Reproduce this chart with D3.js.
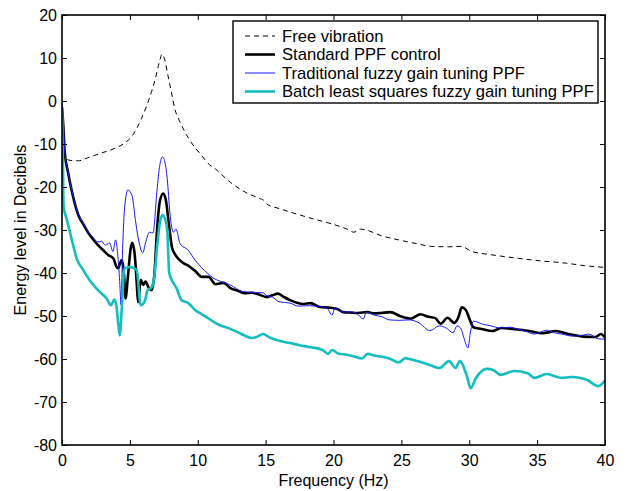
<!DOCTYPE html>
<html>
<head>
<meta charset="utf-8">
<script src="https://cdn.jsdelivr.net/npm/d3@7"></script>
<style>
  html, body { margin: 0; padding: 0; background: #fff; }
  svg { display: block; font-family: "Liberation Sans", Arial, Helvetica, sans-serif; }
</style>
</head>
<body>
<svg id="chart" width="626" height="491"></svg>
<script>
// Frequency response of the beam: energy level (dB) against frequency (Hz)

const freeFreq = [0, 0.2, 0.6, 1.2, 1.9, 2.8, 3.9, 4.6, 5.12, 5.5, 5.86, 6.25, 6.6, 6.9, 7.15, 7.38,
  7.55, 7.8, 8.05, 8.3, 8.65, 9.04, 9.6, 10.27, 10.76, 11.3, 12.4, 13.5, 14.5, 14.9, 15.1, 16.0,
  17.3, 18.5, 19.9, 21.0, 21.5, 22.0, 22.4, 23.5, 24.8, 26.0, 27.2, 28.5, 29.4, 30.2, 31.5, 33.4,
  35.0, 37.1, 38.5, 40];
const freeDb = [-12.0, -13.2, -13.8, -13.9, -13.2, -12.2, -11.0, -9.8, -8.3, -6.4, -4.0, -1.0, 2.2,
  5.5, 8.8, 10.9, 9.8, 6.0, 2.2, -1.7, -4.6, -7.1, -10.0, -12.6, -14.5, -15.8, -18.9, -21.2, -22.6,
  -23.2, -24.0, -25.0, -26.3, -27.4, -28.6, -29.8, -30.5, -29.8, -30.0, -31.3, -32.3, -33.1, -33.8,
  -33.9, -33.8, -35.0, -35.7, -36.5, -37.1, -37.7, -38.3, -38.7];

const ppfFreq = [0, 0.1, 0.2, 0.44, 0.74, 1.2, 1.6, 1.9, 2.3, 2.65, 3.0, 3.4, 3.8, 4.0, 4.14, 4.25,
  4.39, 4.55, 4.68, 4.85, 5.05, 5.17, 5.35, 5.5, 5.6, 5.8, 5.98, 6.15, 6.4, 6.6, 6.8, 7.0, 7.2, 7.45,
  7.65, 7.85, 8.1, 8.3, 8.6, 9.0, 9.3, 9.8, 10.3, 10.8, 11.3, 11.9, 12.4, 13.0, 13.4, 14.0, 14.4,
  15.1, 15.5, 15.9, 16.3, 16.8, 17.3, 17.8, 18.3, 19.0, 19.8, 20.3, 20.7, 21.2, 21.8, 22.5, 23.0,
  23.5, 24.2, 24.9, 25.7, 26.4, 27.0, 27.5, 27.9, 28.4, 28.9, 29.2, 29.45, 29.75, 30.0, 30.3, 30.9,
  31.7, 32.4, 33.4, 34.4, 35.4, 36.4, 37.3, 38.0, 38.4, 39.3, 39.7, 40];
const ppfDb = [-1.5, -6.0, -11.9, -16.5, -21.2, -26.5, -28.8, -30.5, -32.2, -33.5, -34.6, -35.8,
  -36.7, -38.5, -38.9, -38.0, -37.0, -39.5, -45.9, -41.0, -34.5, -33.0, -35.5, -42.0, -46.8, -41.6,
  -42.8, -42.0, -43.5, -44.0, -40.5, -30.0, -23.5, -21.5, -23.0, -28.0, -34.0, -35.5, -36.8, -37.8,
  -38.3, -39.5, -40.9, -40.9, -42.6, -42.3, -43.5, -44.2, -44.7, -44.6, -44.9, -45.6, -45.2, -44.8,
  -45.5, -46.3, -46.9, -47.2, -47.0, -47.9, -48.1, -48.4, -49.1, -49.2, -49.3, -49.1, -49.4, -49.3,
  -49.1, -50.0, -50.6, -49.6, -50.2, -50.5, -51.8, -50.4, -51.6, -50.3, -48.0, -48.6, -50.5, -52.6,
  -53.0, -53.5, -52.8, -53.1, -53.5, -54.0, -53.5, -54.2, -54.6, -54.8, -54.9, -54.2, -55.0];

const fuzzyFreq = [0, 0.1, 0.2, 0.44, 0.74, 1.2, 1.6, 1.9, 2.3, 2.65, 2.9, 3.2, 3.5, 3.75, 3.95,
  4.1, 4.25, 4.35, 4.45, 4.6, 4.85, 5.15, 5.4, 5.6, 5.95, 6.15, 6.45, 6.7, 7.0, 7.2, 7.4, 7.6, 7.75,
  7.95, 8.2, 8.4, 8.7, 9.3, 9.8, 10.3, 10.7, 11.2, 11.4, 12.0, 12.4, 13.3, 14.0, 14.8, 15.1, 15.5,
  16.0, 16.8, 17.4, 18.2, 19.0, 19.5, 19.9, 20.1, 20.7, 21.2, 21.7, 22.2, 22.4, 23.0, 23.6, 24.1,
  24.9, 25.6, 26.3, 27.1, 27.8, 28.3, 28.8, 29.1, 29.4, 29.6, 29.9, 30.1, 30.3, 31.0, 31.6, 32.3,
  33.0, 33.5, 34.2, 34.8, 35.7, 36.3, 36.8, 37.7, 38.3, 38.8, 39.5, 40];
const fuzzyDb = [-0.3, -5.0, -11.5, -16.3, -21.0, -26.3, -28.6, -30.3, -31.8, -32.8, -32.6, -33.5,
  -33.0, -35.0, -32.3, -35.5, -42.0, -47.4, -36.0, -25.3, -20.7, -21.9, -27.5, -31.6, -35.3, -33.0,
  -30.5, -30.7, -20.7, -15.0, -13.0, -14.5, -18.0, -26.0, -30.5, -29.8, -33.2, -34.7, -37.0, -38.8,
  -40.0, -41.3, -41.6, -42.3, -42.8, -44.3, -44.5, -44.6, -45.3, -45.6, -46.7, -47.0, -47.7, -47.6,
  -47.8, -48.1, -49.8, -48.1, -49.1, -49.0, -49.4, -50.7, -49.1, -49.8, -50.2, -50.9, -51.0, -50.9,
  -51.6, -53.4, -52.3, -52.8, -53.9, -52.3, -53.0, -55.0, -57.4, -53.5, -51.2, -51.9, -52.3, -52.8,
  -52.6, -53.0, -53.6, -54.2, -53.3, -53.9, -54.2, -54.7, -54.5, -54.2, -55.3, -55.4];

const blsFreq = [0, 0.06, 0.12, 0.35, 0.7, 1.1, 1.5, 2.0, 2.65, 3.3, 3.6, 3.85, 4.0, 4.15, 4.25,
  4.4, 4.6, 5.0, 5.5, 5.8, 6.1, 6.3, 6.6, 6.8, 7.0, 7.2, 7.4, 7.6, 7.75, 7.9, 8.2, 8.4, 8.8, 9.3,
  9.8, 10.3, 10.8, 11.2, 11.6, 12.4, 13.1, 14.0, 14.4, 14.8, 15.3, 15.8, 16.8, 17.5, 18.2, 19.2,
  19.6, 19.9, 20.4, 21.0, 21.4, 22.1, 22.5, 23.0, 23.6, 24.2, 24.8, 25.3, 25.6, 26.3, 27.1, 27.8,
  28.5, 29.0, 29.3, 29.8, 30.1, 30.5, 31.3, 31.8, 32.3, 33.3, 34.3, 34.8, 35.7, 36.3, 36.8, 37.5,
  38.2, 38.7, 39.5, 40];
const blsDb = [-2.0, -13.0, -24.6, -27.5, -32.0, -36.8, -39.0, -41.5, -44.0, -46.0, -47.5, -46.2,
  -47.5, -52.0, -54.5, -48.5, -39.0, -38.6, -39.3, -47.5, -46.5, -44.0, -43.3, -41.0, -34.0, -28.5,
  -26.5, -27.5, -30.0, -40.0, -42.3, -43.3, -46.3, -47.0, -48.6, -49.6, -50.6, -51.4, -52.1, -53.0,
  -54.0, -55.1, -54.8, -54.2, -55.0, -55.6, -56.3, -56.8, -57.2, -57.9, -58.8, -57.9, -58.8, -59.0,
  -59.3, -59.9, -58.8, -59.2, -59.5, -60.0, -60.8, -59.8, -60.0, -60.6, -61.4, -62.1, -60.5, -62.1,
  -60.5, -63.7, -66.8, -64.4, -62.3, -62.6, -63.7, -62.8, -63.3, -64.4, -63.5, -64.0, -64.4, -64.2,
  -64.4, -64.9, -66.3, -65.0];

const xTicks = [0, 5, 10, 15, 20, 25, 30, 35, 40];
const yTicks = [20, 10, 0, -10, -20, -30, -40, -50, -60, -70, -80];

const seriesNames = ["Free vibration", "Standard PPF control",
  "Traditional fuzzy gain tuning PPF", "Batch least squares fuzzy gain tuning PPF"];

const series = [
  { name: seriesNames[0], freq: freeFreq, db: freeDb, color: "#000", width: 1, dash: "5,4" },
  { name: seriesNames[1], freq: ppfFreq, db: ppfDb, color: "#000", width: 2.6, dash: null },
  { name: seriesNames[2], freq: fuzzyFreq, db: fuzzyDb, color: "#1a1aff", width: 1, dash: null },
  { name: seriesNames[3], freq: blsFreq, db: blsDb, color: "#14bebe", width: 2.6, dash: null }
];

const svg = d3.select("#chart");
const plot = { left: 62, right: 605, top: 15, bottom: 445 };

const x = d3.scaleLinear().domain([0, 40]).range([plot.left, plot.right]);
const y = d3.scaleLinear().domain([-80, 20]).range([plot.bottom, plot.top]);

const fontSize = 16;
const plainNumber = d => String(d);   // ASCII hyphen for negatives

// curves, clipped to the axes box
svg.append("clipPath").attr("id", "plotClip")
  .append("rect")
  .attr("x", plot.left).attr("y", plot.top)
  .attr("width", plot.right - plot.left).attr("height", plot.bottom - plot.top);

const line = d3.line()
  .x(d => x(d[0]))
  .y(d => y(d[1]))
  .curve(d3.curveMonotoneX);

const curves = svg.append("g").attr("clip-path", "url(#plotClip)");
series.forEach(s => {
  const pts = s.freq.map((f, i) => [f, s.db[i]]);
  curves.append("path")
    .datum(pts)
    .attr("fill", "none")
    .attr("stroke", s.color)
    .attr("stroke-width", s.width)
    .attr("stroke-linejoin", "round")
    .attr("stroke-dasharray", s.dash)
    .attr("d", line);
});

// axes with inward ticks on all four sides
const tickLen = 5;
const axisStyle = g => {
  g.select(".domain").remove();
  g.selectAll(".tick line").attr("stroke", "#000").attr("stroke-width", 1);
  g.selectAll(".tick text").attr("fill", "#000").attr("font-size", fontSize)
    .attr("font-family", "Liberation Sans, Arial, Helvetica, sans-serif");
};

svg.append("g")
  .attr("transform", `translate(0,${plot.bottom})`)
  .call(d3.axisBottom(x).tickValues(xTicks).tickSize(-tickLen).tickPadding(10).tickFormat(plainNumber))
  .call(axisStyle);

svg.append("g")
  .attr("transform", `translate(0,${plot.top})`)
  .call(d3.axisTop(x).tickValues(xTicks).tickSize(-tickLen).tickFormat(""))
  .call(axisStyle);

svg.append("g")
  .attr("transform", `translate(${plot.left},0)`)
  .call(d3.axisLeft(y).tickValues(yTicks).tickSize(-tickLen).tickPadding(5).tickFormat(plainNumber))
  .call(axisStyle);

svg.append("g")
  .attr("transform", `translate(${plot.right},0)`)
  .call(d3.axisRight(y).tickValues(yTicks).tickSize(-tickLen).tickFormat(""))
  .call(axisStyle);

svg.append("rect")
  .attr("x", plot.left).attr("y", plot.top)
  .attr("width", plot.right - plot.left).attr("height", plot.bottom - plot.top)
  .attr("fill", "none").attr("stroke", "#000").attr("stroke-width", 1.6);

// axis titles
svg.append("text")
  .attr("x", (plot.left + plot.right) / 2).attr("y", 486)
  .attr("text-anchor", "middle").attr("font-size", fontSize)
  .text("Frequency (Hz)");

svg.append("text")
  .attr("transform", `translate(26,${(plot.top + plot.bottom) / 2}) rotate(-90)`)
  .attr("text-anchor", "middle").attr("font-size", fontSize)
  .text("Energy level in Decibels");

// legend
const legend = { x: 233, y: 21, w: 365, h: 82, rowStart: 36, rowStep: 18.5 };
const lg = svg.append("g");
lg.append("rect")
  .attr("x", legend.x).attr("y", legend.y)
  .attr("width", legend.w).attr("height", legend.h)
  .attr("fill", "#fff").attr("stroke", "#000").attr("stroke-width", 1.4);

series.forEach((s, i) => {
  const cy = legend.rowStart + i * legend.rowStep;
  lg.append("line")
    .attr("x1", legend.x + 12).attr("x2", legend.x + 42)
    .attr("y1", cy).attr("y2", cy)
    .attr("stroke", s.color).attr("stroke-width", s.width)
    .attr("stroke-dasharray", s.dash);
  lg.append("text")
    .attr("x", legend.x + 49).attr("y", cy)
    .attr("dy", "0.36em")
    .attr("font-size", 16.6)
    .text(s.name);
});
</script>
</body>
</html>
